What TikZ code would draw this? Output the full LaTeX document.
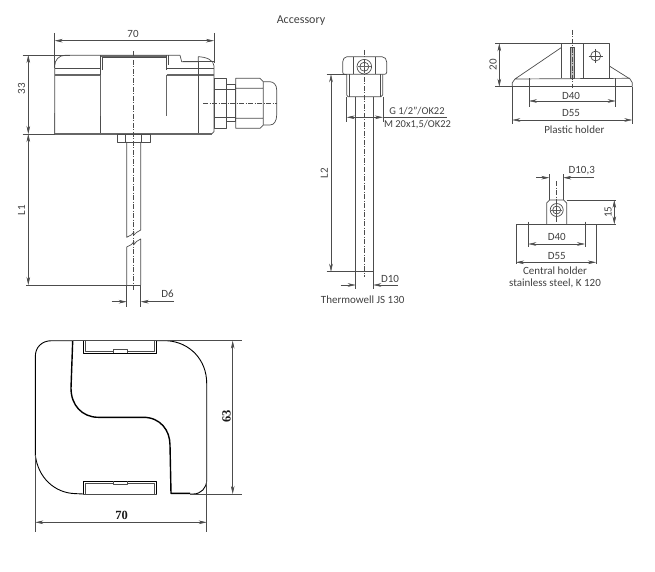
\documentclass[tikz,border=0pt]{standalone}
\usepackage{fontspec}
\setmainfont{Carlito}
\newfontfamily\boldserif{Liberation Serif}
\usetikzlibrary{arrows.meta}

\begin{document}
\begin{tikzpicture}[x=1pt, y=-1pt, >={Stealth[length=8pt,width=3.6pt]},
    part/.style={draw=black!70, line width=0.7pt, line join=round},
    heavy/.style={draw=black!60, line width=1.4pt},
    ink/.style={draw=black, line width=0.9pt, line join=round},
    dim/.style={draw=black!70, line width=0.5pt},
    axis/.style={draw=black!70, line width=0.5pt, dash pattern=on 5pt off 1.5pt on 1pt off 1.5pt},
    lbl/.style={text=black!75, font=\fontsize{11}{12}\selectfont, inner sep=0pt},
    bigdim/.style={text=black!90, font=\boldserif\bfseries\fontsize{12.5}{14}\selectfont, inner sep=0pt}]

\useasboundingbox (0,0) rectangle (655,572);

\node[lbl, font=\fontsize{12}{14}\selectfont] (title) at (301,21) {Accessory};

% Housing
\draw[part] (54.7,134) -- (54.7,66) .. controls (54.7,60) and (59,55.3) .. (65,55.3)
    -- (180,55.3) -- (181.7,61.7) -- (198.3,61.7) -- (198.3,56.7)
    .. controls (206,57) and (214,60) .. (214,66) -- (214,131.7) -- (211.7,134) -- cycle;
\draw[part] (54.7,68.3) -- (100.7,68.3) (166.7,68.3) -- (214,68.3);
\draw[heavy] (54.7,75) -- (100.7,75) (166.7,75) -- (214,75);
\draw[heavy] (100.7,56) -- (166.7,56);
\draw[part] (102.7,70) -- (102.7,57.7) -- (166.7,57.7);
\draw[part] (100.7,55.3) -- (100.7,134) (166.7,55.3) -- (166.7,70) (198.3,61.7) -- (198.3,134);
\draw[part] (168.3,55.3) -- (168.3,65) (183,61.7) -- (214,61.7);
\draw[heavy] (100.7,75) -- (100.7,116) (166.7,75) -- (166.7,116);
\draw[heavy] (54.7,113) -- (54.7,134) -- (211.7,134);

% Cable gland
\draw[part] (214,78.3) rectangle (226.7,128.3) (214,89.3) -- (226.7,89.3) (214,117.3) -- (226.7,117.3);
\draw[part] (226.7,84) rectangle (235.7,121.7) (226.7,89.3) -- (235.7,89.3) (226.7,117.3) -- (235.7,117.3);
\draw[part] (235.7,78.3) -- (260,78.3) -- (263.3,81.7) -- (263.3,125) -- (260,128.3) -- (235.7,128.3) -- cycle
    (235.7,88.3) -- (263.3,88.3) (235.7,118.3) -- (263.3,118.3);
\draw[part] (263.3,81.7) -- (270,81.7) .. controls (274,82) and (276.7,85) .. (276.7,90) -- (276.7,115)
    .. controls (276.7,121) and (274,125) .. (270,125) -- (263.3,125);
\draw[axis] (203,103.3) -- (277,103.3);

% Flange and sensor stem
\draw[part] (117.3,134) rectangle (150,142) (125.7,134) -- (125.7,142) (141.7,134) -- (141.7,142);
\draw[part] (126.7,142) -- (126.7,237.3) -- (131.5,234.8) -- (134,232) -- (133.5,235.5) -- (136.5,232.5) -- (140.7,230) -- (140.7,142);
\draw[part] (126.7,285) -- (126.7,247) -- (131.5,244.5) -- (134,241.5) -- (133.5,245) -- (136.5,241.5) -- (140.7,239) -- (140.7,285);
\draw[axis] (133.3,51) -- (133.3,290);

% Housing dimensions
\draw[dim] (54.7,33) -- (54.7,68) (214,33) -- (214,63);
\draw[dim, <->] (54.7,40.7) -- (214,40.7);
\node[lbl] (w70) at (133,34) {70};
\draw[dim] (22.7,55) -- (70,55) (22.7,134) -- (54.7,134);
\draw[dim, <->] (28.3,55) -- (28.3,134);
\node[lbl, rotate=90] (h33) at (21.5,89) {33};
\draw[dim, <->] (28.3,134) -- (28.3,285);
\draw[dim] (26,285) -- (140.7,285);
\node[lbl, rotate=90] (l1) at (21.5,210) {L1};
\draw[dim] (126.7,285) -- (126.7,306.7) (140.7,285) -- (140.7,306.7);
\draw[dim, ->] (111.7,301.7) -- (126.7,301.7);
\draw[dim, ->] (174,301.7) -- (140.7,301.7);
\node[lbl] (d6) at (167.5,293.5) {D6};

% Thermowell
\draw[part, rounded corners=2pt] (342.7,74.3) -- (342.7,60) -- (345,56.7) -- (384,56.7) -- (386.7,60) -- (386.7,74.3) -- cycle;
\draw[part] (353.3,56.7) -- (353.3,74.3) (375,56.7) -- (375,74.3);
\draw[part] (346.7,74.3) -- (346.7,95) -- (348,96.7) -- (381,96.7) -- (382.7,95) -- (382.7,74.3);
\draw[part] (349,74.3) -- (349,96.7) (380,74.3) -- (380,96.7);
\draw[part] (364.3,66.7) circle (7.3pt) (364.3,66.7) circle (4.5pt);
\draw[heavy, line width=1pt] (358,66.7) -- (370.6,66.7) (364.3,60.4) -- (364.3,73);
\draw[part] (355.7,96.7) -- (355.7,271.7) (373.3,96.7) -- (373.3,271.7);
\draw[axis] (364.3,50) -- (364.3,277);
\draw[dim] (326.7,74.3) -- (346.7,74.3) (326.7,271.7) -- (373.3,271.7);
\draw[dim, <->] (331,74.3) -- (331,271.7);
\node[lbl, rotate=90] (l2) at (324.3,173) {L2};
\draw[dim] (346.7,96.7) -- (346.7,121.7) (383,96.7) -- (383,121.7);
\draw[dim, <->] (346.7,117.3) -- (383,117.3);
\draw[dim] (383,117.3) -- (446.7,117.3);
\node[lbl, font=\fontsize{10.5}{12}\selectfont] (thread1) at (417,111) {G 1/2"/OK22};
\node[lbl, font=\fontsize{10.5}{12}\selectfont] (thread2) at (417.5,124.5) {M 20x1,5/OK22};
\draw[dim] (355.7,271.7) -- (355.7,289) (373.3,271.7) -- (373.3,289);
\draw[dim, ->] (340.7,285) -- (355.7,285);
\draw[dim, ->] (398,285) -- (373.3,285);
\node[lbl] (d10) at (390,278.7) {D10};
\node[lbl] (well) at (362.7,300) {Thermowell JS 130};

% Plastic holder
\draw[part] (561.7,78.3) -- (561.7,43.3) -- (609.3,43.3) -- (609.3,78.3);
\draw[part] (583.3,43.3) -- (583.3,78.3);
\draw[part] (561.7,47.3) -- (515,79) -- (630,78.3);
\draw[part] (609.3,66) -- (630,79) -- (632.3,82.7) -- (632.3,86.7);
\draw[part] (515,79) -- (512.3,82.7) -- (512.3,86.7);
\draw[part, fill=black!25] (570,47) rectangle (574.7,78.3);
\draw[part] (595.7,56) circle (5pt);
\draw[dim] (595.7,49) -- (595.7,63) (588.7,56) -- (602.7,56);
\draw[axis] (572.3,30) -- (572.3,88);
\draw[dim] (495,43.3) -- (561.7,43.3) (495,86.7) -- (632.3,86.7);
\draw[dim, <->] (499.3,43.3) -- (499.3,86.7);
\node[lbl, rotate=90] (h20) at (493,65) {20};
\draw[dim] (529,78.3) -- (529,106.7) (615.7,78.3) -- (615.7,106.7);
\draw[dim, <->] (529,101) -- (615.7,101);
\node[lbl] (p40) at (571,95.5) {D40};
\draw[dim] (512.3,86.7) -- (512.3,124) (632.3,86.7) -- (632.3,124);
\draw[dim, <->] (512.3,120) -- (632.3,120);
\node[lbl] (p55) at (571,112.7) {D55};
\node[lbl] (plastic) at (574.3,129.5) {Plastic holder};

% Central holder
\draw[part] (546.7,224.3) -- (546.7,203) -- (549.7,200) -- (563.7,200) -- (566.7,203) -- (566.7,224.3);
\draw[part] (516,224.3) -- (596,224.3);
\draw[part] (549.3,174) -- (549.3,200) (563.3,174) -- (563.3,200);
\draw[part] (556.7,210) circle (6.5pt) (556.7,210) circle (4pt);
\draw[heavy, line width=0.9pt] (551,210) -- (562.4,210) (556.7,204.3) -- (556.7,215.7);
\draw[axis] (556.7,181) -- (556.7,223);
\draw[dim, ->] (536,177.7) -- (549.3,177.7);
\draw[dim, ->] (594,177.7) -- (563.3,177.7);
\node[lbl] (d103) at (581.7,171) {D10,3};
\draw[dim] (566.7,200) -- (616,200) (596,224.3) -- (616,224.3);
\draw[dim, <->] (614.3,200) -- (614.3,224.3);
\node[lbl, rotate=90] (h15) at (608,212.3) {15};
\draw[dim] (528.3,221.7) -- (528.3,246.5) (585,221.7) -- (585,246.5);
\draw[dim, <->] (528.3,244) -- (585,244);
\node[lbl] (c40) at (556.7,237.3) {D40};
\draw[dim] (516,224.3) -- (516,264) (596,224.3) -- (596,264);
\draw[dim, <->] (516,262.3) -- (596,262.3);
\node[lbl] (c55) at (556.7,256) {D55};
\node[lbl, align=center] (central) at (555,277.5) {Central holder\\stainless steel, K 120};

% Bottom view
\draw[ink] (72.7,340.7) -- (51.7,340.7) .. controls (42,340.7) and (35.3,347) .. (35.3,356.7) -- (35.3,455)
    .. controls (38,478) and (55,493) .. (75,493.6) -- (83.3,494);
\draw[ink] (156.7,340.7) -- (166.7,340.7) .. controls (190,342) and (206.7,360) .. (206.7,383.3) -- (206.7,480)
    .. controls (206.7,488) and (201,494) .. (193.3,494) -- (190,494);
\draw[ink, line width=1.4pt] (72.7,340.7) -- (71,388.3) .. controls (71,405) and (82,417.3) .. (98.3,417.3) -- (143.3,417.3)
    .. controls (160,417.3) and (170,430) .. (170,445) -- (171,493.3) -- (190,493.3);
\draw[ink] (83.3,340.7) -- (83.3,353.3) -- (156.7,353.3) -- (156.7,340.7);
\draw[part] (85.5,340.7) -- (85.5,351) -- (113.3,351) (127.3,351) -- (154.5,351) -- (154.5,340.7);
\draw[part] (113.3,353.3) -- (113.3,349.3) -- (127.3,349.3) -- (127.3,353.3);
\draw[dim] (72.7,340.7) -- (156.7,340.7);
\draw[ink] (83.3,494) -- (83.3,481.3) -- (156.7,481.3) -- (156.7,494);
\draw[dim] (83.3,494) -- (156.7,494);
\draw[part] (85.5,494) -- (85.5,483.7) -- (113.3,483.7) (127.3,483.7) -- (154.5,483.7) -- (154.5,494);
\draw[part] (113.3,481.3) -- (113.3,484.5) -- (127.3,484.5) -- (127.3,481.3);
\draw[dim] (156.7,340.7) -- (241.7,340.7) (190,494) -- (241.7,494);
\draw[dim, ->] (232.7,417) -- (232.7,340.7);
\draw[dim, ->] (232.7,417) -- (232.7,494);
\node[bigdim, rotate=90] (h63) at (226.5,416.7) {63};
\draw[dim] (35.3,455) -- (35.3,531.7) (206.7,480) -- (206.7,531.7);
\draw[dim, <->] (35.3,522.3) -- (206.7,522.3);
\node[bigdim] (w70b) at (121.7,515) {70};

\end{tikzpicture}
\end{document}
